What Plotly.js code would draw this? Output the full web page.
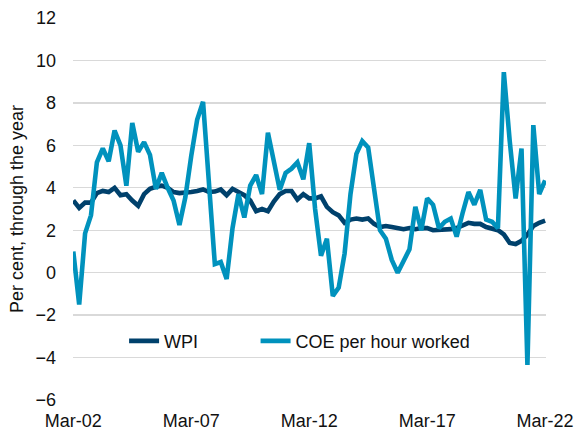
<!DOCTYPE html>
<html>
<head>
<meta charset="utf-8">
<script src="https://cdn.plot.ly/plotly-3.0.1.min.js"></script>
<style>
  html, body { margin: 0; padding: 0; background: #fff; }
  #chart { width: 575px; height: 431px; }
</style>
</head>
<body>
<div id="chart"></div>
<script>
// Quarterly categories, Mar-02 to Mar-22
var months = ['Mar', 'Jun', 'Sep', 'Dec'];
var quarters = [];
for (var yr = 2; yr <= 22; yr++) {
  for (var q = 0; q < 4; q++) {
    if (yr === 22 && q > 0) break;
    quarters.push(months[q] + '-' + (yr < 10 ? '0' + yr : '' + yr));
  }
}

var tickLabels = ['Mar-02', 'Mar-07', 'Mar-12', 'Mar-17', 'Mar-22'];

// Wage Price Index, per cent through the year
var wpi = [
  3.4, 3.05, 3.3, 3.3, 3.75, 3.85, 3.8, 4.0, 3.65, 3.7,
  3.4, 3.15, 3.7, 3.95, 4.05, 4.1, 4.0, 3.8, 3.75, 3.75,
  3.8, 3.85, 3.92, 3.8, 3.82, 3.92, 3.65, 3.95, 3.8, 3.65,
  3.4, 2.9, 3.0, 2.9, 3.35, 3.7, 3.85, 3.85, 3.45, 3.7,
  3.5, 3.5, 3.6, 3.1, 2.85, 2.7, 2.35, 2.5, 2.55, 2.5,
  2.55, 2.3, 2.15, 2.2, 2.15, 2.1, 2.05, 2.1, 2.05, 2.1,
  2.1, 2.0, 2.0, 2.0, 2.05, 2.1, 2.2, 2.35, 2.3, 2.3,
  2.15, 2.05, 2.0, 1.8, 1.4, 1.35, 1.5, 1.8, 2.2, 2.35,
  2.45
];

// Compensation of employees per hour worked, per cent through the year
var coe = [
  1.0, -1.5, 1.85, 2.7, 5.2, 5.85, 5.25, 6.7, 6.0, 4.1,
  7.05, 5.7, 6.15, 5.55, 3.95, 4.7, 4.0, 3.4, 2.25, 3.55,
  5.5, 7.2, 8.05, 4.5, 0.4, 0.5, -0.3, 2.1, 3.7, 2.6,
  4.1, 4.6, 3.7, 6.6, 5.2, 3.9, 4.7, 4.9, 5.2, 4.4,
  6.1, 3.0, 0.8, 1.6, -1.1, -0.7, 0.9, 3.7, 5.6, 6.2,
  5.9, 4.0, 2.0, 1.6, 0.6, 0.0, 0.6, 1.1, 3.1, 2.0,
  3.5, 3.2, 2.1, 2.4, 2.55, 1.7, 2.8, 3.8, 3.2, 3.9,
  2.5, 2.4, 2.1, 9.45, 6.2, 3.5, 5.85, -4.35, 6.95, 3.7,
  4.35
];

var seriesNames = ['WPI', 'COE per hour worked'];
var seriesColors = ['#00416C', '#0092BD'];

var traces = [
  {
    x: quarters, y: wpi, name: seriesNames[0], type: 'scatter', mode: 'lines',
    line: { color: seriesColors[0], width: 4.6 }, legend: 'legend'
  },
  {
    x: quarters, y: coe, name: seriesNames[1], type: 'scatter', mode: 'lines',
    line: { color: seriesColors[1], width: 4.6 }, legend: 'legend2'
  }
];

var font = { family: 'Liberation Sans, Arial, sans-serif', size: 18, color: '#111111' };

var legendBase = {
  orientation: 'h', xanchor: 'left', y: 0.154, yanchor: 'middle',
  bgcolor: 'rgba(0,0,0,0)', font: font, itemwidth: 30
};

var layout = {
  width: 575, height: 431,
  margin: { l: 73, r: 29, t: 18, b: 31, pad: 0 },
  paper_bgcolor: '#ffffff', plot_bgcolor: '#ffffff',
  font: font,
  showlegend: true,
  legend: Object.assign({}, legendBase, { x: 0.108 }),
  legend2: Object.assign({}, legendBase, { x: 0.386 }),
  xaxis: {
    type: 'category', categoryorder: 'array', categoryarray: quarters,
    range: [-0.05, 80.15],
    tickmode: 'array', tickvals: tickLabels, ticktext: tickLabels,
    showgrid: false, zeroline: false, showline: false, ticks: '',
    ticklabelstandoff: 8, tickfont: font, fixedrange: true
  },
  xaxis2: {
    type: 'category', matches: 'x', overlaying: 'x', anchor: 'free', position: 1 / 3,
    side: 'bottom',
    tickmode: 'array', tickvals: tickLabels,
    showticklabels: false, ticks: 'outside', ticklen: 5, tickwidth: 1.3, tickcolor: '#D0D0D0',
    showgrid: false, zeroline: false, showline: false
  },
  yaxis: {
    range: [-6, 12], tickmode: 'linear', tick0: -6, dtick: 2,
    showgrid: true, gridcolor: '#D9D9D9', gridwidth: 1.3,
    zeroline: false, showline: false, ticks: '',
    ticklabelstandoff: 16, tickfont: font,
    title: { text: 'Per cent, through the year', font: font, standoff: 7 },
    fixedrange: true
  }
};

Plotly.newPlot('chart', traces, layout, { staticPlot: true, displayModeBar: false });
</script>
</body>
</html>
